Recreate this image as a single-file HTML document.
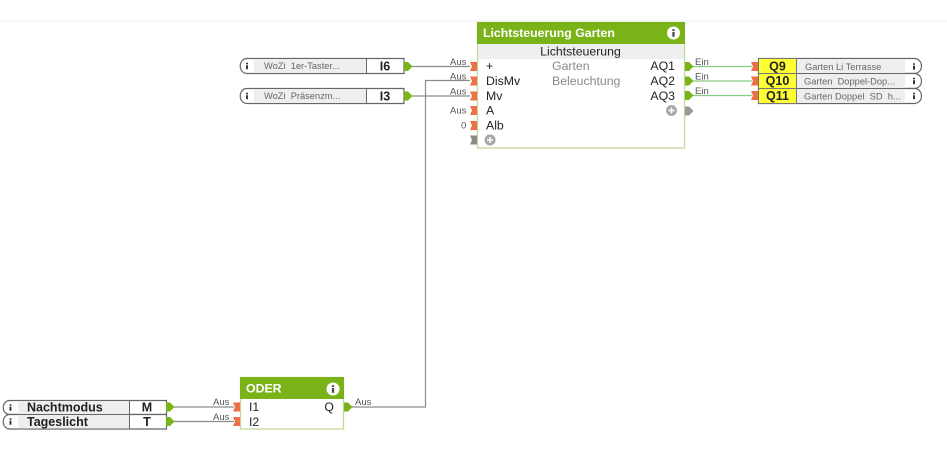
<!DOCTYPE html>
<html><head><meta charset="utf-8"><style>
html,body{margin:0;padding:0;background:#fff;width:947px;height:475px;overflow:hidden}
svg{display:block;font-family:"Liberation Sans",sans-serif;filter:blur(.35px)}
.a{font-size:9.500px;fill:#555}
.p{font-size:12.300px;fill:#222}
.g{font-size:12.300px;fill:#888}
.n{font-size:9.300px;fill:#666}
.b{font-weight:bold;font-size:12.500px;fill:#222}
</style></head><body>
<svg width="947" height="475" viewBox="0 0 947 475">
<defs>
<g id="in"><path d="M-7,-4.500 H0 V4.500 H-7 L-5,0 Z" fill="#ee7048"/></g>
<g id="out"><path d="M0,-4.500 H4 L8.500,0 L4,4.500 H0 Z" fill="#7ab317"/></g>
<g id="i"><circle r="6.500" fill="#fff"/><rect x="-1.100" y="-3.800" width="2.200" height="1.800" fill="#444"/><rect x="-1.100" y="-1" width="2.200" height="4.800" fill="#444"/></g>
<g id="si"><rect x="-.9" y="-3.200" width="1.800" height="1.500" fill="#222"/><rect x="-.9" y="-.8" width="1.800" height="4" fill="#222"/></g>
</defs>
<rect x="0" y="20.500" width="947" height="1" fill="#f1f1f1"/>

<!-- connectors -->
<g fill="none" stroke="#8c8c8c" stroke-width="1.200">
<path d="M412,66.500H470"/><path d="M412,96H470"/>
<path d="M352,407H425.500V80.500H470"/>
<path d="M174,407H234"/><path d="M174,421.500H234"/>
</g>
<g fill="none" stroke="#86cc86" stroke-width="1.200">
<path d="M692,66.500H752"/><path d="M692,81H752"/><path d="M692,95.500H752"/>
</g>

<!-- Main block -->
<rect x="477.500" y="22.500" width="207" height="125.500" fill="#fff" stroke="#c3d99a" stroke-width="1.300"/>
<rect x="477" y="22" width="208" height="22" fill="#7ab317"/>
<rect x="478" y="44" width="206" height="15" fill="#eeeeee"/>
<text x="483" y="37" font-size="12.300" font-weight="bold" fill="#fff">Lichtsteuerung Garten</text>
<use href="#i" x="673.500" y="33"/>
<text x="580.500" y="55.500" text-anchor="middle" class="p">Lichtsteuerung</text>
<text x="486" y="70" class="p">+</text>
<text x="486" y="85" class="p">DisMv</text>
<text x="486" y="100" class="p">Mv</text>
<text x="486" y="114.500" class="p">A</text>
<text x="486" y="129.500" class="p">Alb</text>
<circle cx="490" cy="140" r="5.500" fill="#a8a8a8"/>
<path d="M487,140h6M490,137v6" stroke="#fff" stroke-width="1.500"/>
<text x="552" y="70" class="g">Garten</text>
<text x="552" y="85" class="g">Beleuchtung</text>
<text x="675" y="70" text-anchor="end" class="p">AQ1</text>
<text x="675" y="85" text-anchor="end" class="p">AQ2</text>
<text x="675" y="100" text-anchor="end" class="p">AQ3</text>
<circle cx="671.500" cy="110.500" r="5.500" fill="#a8a8a8"/>
<path d="M668.500,110.500h6M671.500,107.500v6" stroke="#fff" stroke-width="1.500"/>
<use href="#in" x="477" y="66.500"/><use href="#in" x="477" y="81"/><use href="#in" x="477" y="96"/><use href="#in" x="477" y="110.500"/><use href="#in" x="477" y="125.500"/>
<path d="M470,135.500 H477 V144.500 H470 L472,140 Z" fill="#8a8a8a"/>
<use href="#out" x="685" y="66.500"/><use href="#out" x="685" y="81"/><use href="#out" x="685" y="95.500"/>
<path d="M685,106.500H689L693.500,111L689,115.500H685Z" fill="#999"/>
<text x="450" y="65" class="a">Aus</text><text x="450" y="79.500" class="a">Aus</text><text x="450" y="94.500" class="a">Aus</text><text x="450" y="113.500" class="a">Aus</text><text x="461" y="128.500" class="a">0</text>
<text x="695" y="65" class="a">Ein</text><text x="695" y="79.500" class="a">Ein</text><text x="695" y="94" class="a">Ein</text>

<!-- left input blocks -->
<g fill="#fff" stroke="#666" stroke-width="1.200">
<path d="M404,58.500H247C238,58.500 238,73.500 247,73.500H404Z"/>
<path d="M404,88.500H247C238,88.500 238,103.500 247,103.500H404Z"/>
</g>
<rect x="254" y="59" width="112" height="14" fill="#eee"/>
<rect x="254" y="89" width="112" height="14" fill="#eee"/>
<path d="M366.500,58.500V73.500M366.500,88.500V103.500" stroke="#666"/>
<use href="#si" x="247" y="66"/><use href="#si" x="247" y="96"/>
<text x="264" y="69" class="n">WoZi&#160; 1er-Taster...</text>
<text x="264" y="99" class="n">WoZi&#160; Präsenzm...</text>
<text x="385" y="70.500" text-anchor="middle" class="b">I6</text>
<text x="385" y="100.500" text-anchor="middle" class="b">I3</text>
<use href="#out" x="404" y="66.500"/><use href="#out" x="404" y="96"/>

<!-- right output blocks -->
<g fill="#fff" stroke="#666" stroke-width="1.200">
<path d="M758.500,58.500H914C924,58.500 924,73.500 914,73.500H758.500Z"/>
<path d="M758.500,73.500H914C924,73.500 924,88.500 914,88.500H758.500Z"/>
<path d="M758.500,88.500H914C924,88.500 924,103.500 914,103.500H758.500Z"/>
</g>
<rect x="797" y="59" width="108" height="14" fill="#eee"/>
<rect x="797" y="74" width="108" height="14" fill="#eee"/>
<rect x="797" y="89" width="108" height="14" fill="#eee"/>
<g fill="#ffff33" stroke="#777"><rect x="758.500" y="58.500" width="38" height="15"/><rect x="758.500" y="73.500" width="38" height="15"/><rect x="758.500" y="88.500" width="38" height="15"/></g>
<text x="777.500" y="70.500" text-anchor="middle" class="b">Q9</text>
<text x="777.500" y="85" text-anchor="middle" class="b">Q10</text>
<text x="777.500" y="100" text-anchor="middle" class="b">Q11</text>
<text x="805" y="70" class="n">Garten Li Terrasse</text>
<text x="804" y="84.500" class="n">Garten&#160; Doppel-Dop...</text>
<text x="804" y="99.500" class="n">Garten Doppel&#160; SD&#160; h...</text>
<use href="#si" x="914" y="66.500"/><use href="#si" x="914" y="81"/><use href="#si" x="914" y="96"/>
<use href="#in" x="758" y="66.500"/><use href="#in" x="758" y="81"/><use href="#in" x="758" y="95.500"/>

<!-- Nachtmodus / Tageslicht -->
<g fill="#fff" stroke="#666" stroke-width="1.200">
<path d="M166.500,400.500H10C1,400.500 1,414.500 10,414.500H166.500Z"/>
<path d="M166.500,414.500H10C1,414.500 1,429 10,429H166.500Z"/>
</g>
<rect x="18" y="401" width="111" height="13" fill="#eee"/>
<rect x="18" y="415" width="111" height="13.500" fill="#eee"/>
<path d="M129.500,400.500V429" stroke="#666"/>
<use href="#si" x="10.500" y="407.500"/><use href="#si" x="10.500" y="421.500"/>
<text x="27" y="411.500" class="b">Nachtmodus</text>
<text x="27" y="426" class="b">Tageslicht</text>
<text x="147" y="411.500" text-anchor="middle" class="b">M</text>
<text x="147" y="426" text-anchor="middle" class="b">T</text>
<use href="#out" x="166" y="407"/><use href="#out" x="166" y="421.500"/>
<text x="213" y="405" class="a">Aus</text><text x="213" y="420" class="a">Aus</text>

<!-- ODER -->
<rect x="240.500" y="377.500" width="103" height="51.500" fill="#fff" stroke="#c3d99a" stroke-width="1.300"/>
<rect x="240" y="377" width="104" height="22" fill="#7ab317"/>
<text x="246" y="392.500" font-size="12.300" font-weight="bold" fill="#fff">ODER</text>
<use href="#i" x="333" y="389"/>
<text x="249" y="411" class="p">I1</text>
<text x="249" y="426" class="p">I2</text>
<text x="334" y="411" text-anchor="end" class="p">Q</text>
<use href="#in" x="240" y="407"/><use href="#in" x="240" y="421.500"/>
<use href="#out" x="344" y="407"/>
<text x="355" y="405" class="a">Aus</text>
</svg>
</body></html>
